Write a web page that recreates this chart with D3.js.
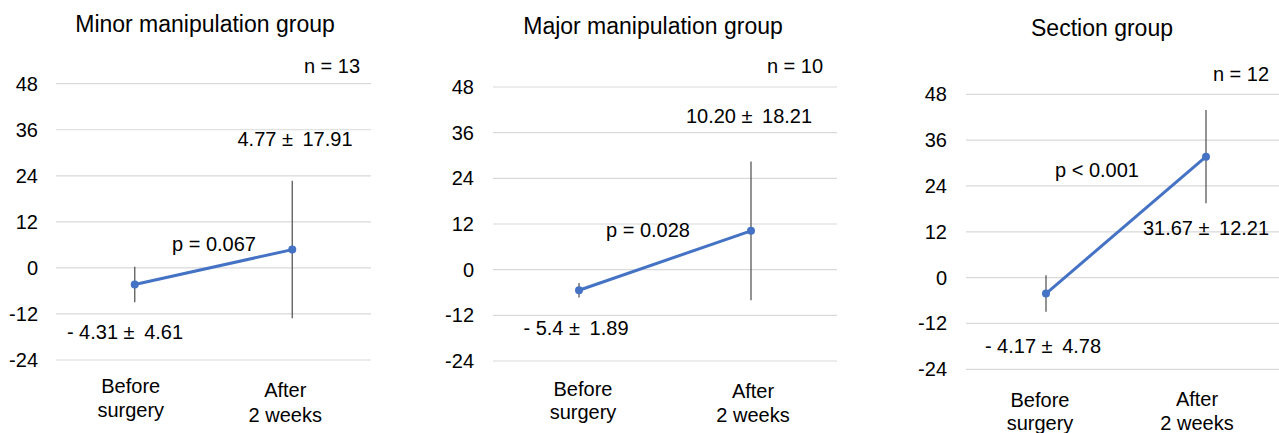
<!DOCTYPE html>
<html>
<head>
<meta charset="utf-8">
<title>Before / after surgery</title>
<script src="https://cdn.jsdelivr.net/npm/d3@7"></script>
<style>
  body { margin: 0; background: #fff; }
  text { font-family: "Liberation Sans", Arial, sans-serif; fill: #000; }
</style>
</head>
<body>
<script>
// data
var groups = ["Minor manipulation group", "Major manipulation group", "Section group"];
var categories = ["Before surgery", "After 2 weeks"];
var categoryLines = [["Before", "surgery"], ["After", "2 weeks"]];
var beforeMean = [-4.31, -5.4, -4.17];
var beforeSD = [4.61, 1.89, 4.78];
var afterMean = [4.77, 10.20, 31.67];
var afterSD = [17.91, 18.21, 12.21];
var nValues = [13, 10, 12];
var pLabels = ["p = 0.067", "p = 0.028", "p < 0.001"];
var beforeLabels = ["- 4.31 \u00B1 \u20094.61", "- 5.4 \u00B1 \u20091.89", "- 4.17 \u00B1 \u20094.78"];
var afterLabels = ["4.77 \u00B1 \u200917.91", "10.20 \u00B1 \u200918.21", "31.67 \u00B1 \u200912.21"];
var yTicks = [-24, -12, 0, 12, 24, 36, 48];

// layout of each panel (pixels)
var layout = [
  { x0: 56, x1: 371, yTop: 83.7, yBot: 360, tickX: 38,
    title: [205, 32], n: [332, 73], after: [295, 146], p: [214, 251], before: [125, 339],
    catDx: [-4, -7], catY: [[393, 417], [397, 422]] },
  { x0: 493, x1: 837, yTop: 87, yBot: 361, tickX: 474,
    title: [653, 34], n: [795, 73], after: [749, 123], p: [648, 237], before: [576, 335],
    catDx: [4, 2], catY: [[396, 419], [398, 422]] },
  { x0: 966, x1: 1286, yTop: 94.3, yBot: 369.3, tickX: 947,
    title: [1102, 36], n: [1241, 81], after: [1206, 235], p: [1097, 177], before: [1043, 353],
    catDx: [-6, -9], catY: [[407, 430], [406, 430]] }
];

var svg = d3.select("body").append("svg")
    .attr("width", 1279)
    .attr("height", 433);

groups.forEach(function(name, i) {
  var L = layout[i];
  var g = svg.append("g");

  var x = d3.scalePoint().domain(categories).range([L.x0, L.x1]).padding(0.5);
  var y = d3.scaleLinear().domain([-24, 48]).range([L.yBot, L.yTop]);

  // gridlines
  g.selectAll(".grid").data(yTicks).enter().append("line")
    .attr("x1", L.x0).attr("x2", L.x1)
    .attr("y1", function(d) { return y(d); })
    .attr("y2", function(d) { return y(d); })
    .attr("stroke", "#d9d9d9").attr("stroke-width", 1.2);

  // y tick labels
  g.selectAll(".tick").data(yTicks).enter().append("text")
    .attr("x", L.tickX)
    .attr("y", function(d) { return y(d); })
    .attr("dy", "0.35em")
    .attr("text-anchor", "end")
    .attr("font-size", 20)
    .text(function(d) { return d; });

  // category labels
  categories.forEach(function(c, j) {
    categoryLines[j].forEach(function(line, k) {
      g.append("text")
        .attr("x", x(c) + L.catDx[j])
        .attr("y", L.catY[j][k])
        .attr("text-anchor", "middle")
        .attr("font-size", 20)
        .text(line);
    });
  });

  var pts = [
    { cat: categories[0], m: beforeMean[i], sd: beforeSD[i] },
    { cat: categories[1], m: afterMean[i], sd: afterSD[i] }
  ];

  // error bars
  g.selectAll(".err").data(pts).enter().append("line")
    .attr("x1", function(d) { return x(d.cat); })
    .attr("x2", function(d) { return x(d.cat); })
    .attr("y1", function(d) { return y(d.m + d.sd); })
    .attr("y2", function(d) { return y(d.m - d.sd); })
    .attr("stroke", "#595959").attr("stroke-width", 1.3);

  // mean line
  var line = d3.line()
    .x(function(d) { return x(d.cat); })
    .y(function(d) { return y(d.m); });
  g.append("path").datum(pts)
    .attr("d", line)
    .attr("fill", "none")
    .attr("stroke", "#4472C4")
    .attr("stroke-width", 3);

  g.selectAll(".pt").data(pts).enter().append("circle")
    .attr("cx", function(d) { return x(d.cat); })
    .attr("cy", function(d) { return y(d.m); })
    .attr("r", 4)
    .attr("fill", "#4472C4");

  // text
  g.append("text").attr("x", L.title[0]).attr("y", L.title[1])
    .attr("text-anchor", "middle").attr("font-size", 23).text(name);
  g.append("text").attr("x", L.n[0]).attr("y", L.n[1])
    .attr("text-anchor", "middle").attr("font-size", 20).text("n = " + nValues[i]);
  g.append("text").attr("x", L.after[0]).attr("y", L.after[1])
    .attr("text-anchor", "middle").attr("font-size", 20).text(afterLabels[i]);
  g.append("text").attr("x", L.p[0]).attr("y", L.p[1])
    .attr("text-anchor", "middle").attr("font-size", 20).text(pLabels[i]);
  g.append("text").attr("x", L.before[0]).attr("y", L.before[1])
    .attr("text-anchor", "middle").attr("font-size", 20).text(beforeLabels[i]);
});
</script>
</body>
</html>
